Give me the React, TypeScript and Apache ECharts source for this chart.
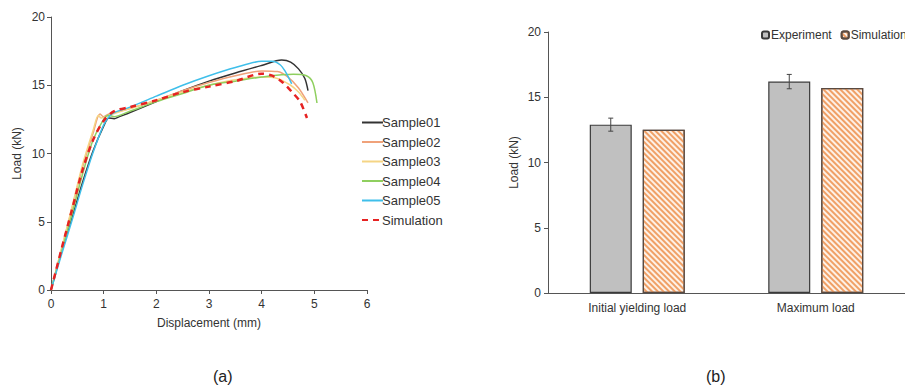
import React, { useEffect, useRef } from "react";
import * as echarts from "echarts";

const sample01: [number, number][] = [[0,0],[0.2,2.8],[0.4,5.3],[0.6,7.9],[0.8,10.2],[1.0,12.0],[1.1,12.6],[1.2,12.55],[1.3,12.7],[1.5,13.0],[2,13.8],[2.5,14.6],[3,15.3],[3.5,15.9],[4,16.45],[4.38,16.85],[4.55,16.7],[4.7,16.2],[4.82,15.5],[4.88,14.6]];
const sample02: [number, number][] = [[0,0],[0.2,3.0],[0.4,6.0],[0.6,9.0],[0.8,11.5],[0.93,12.9],[1.0,12.7],[1.1,12.9],[1.5,13.3],[2,13.9],[2.5,14.6],[3,15.2],[3.5,15.7],[4,16.05],[4.3,16.0],[4.5,15.6],[4.7,14.8],[4.88,13.7]];
const sample03: [number, number][] = [[0,0],[0.2,3.0],[0.4,6.1],[0.6,9.2],[0.8,11.7],[0.9,12.8],[0.95,12.6],[1.1,12.8],[1.5,13.3],[2,13.9],[2.5,14.5],[3,15.0],[3.5,15.4],[4,15.6],[4.3,15.5],[4.55,15.0],[4.7,14.5],[4.82,13.9]];
const sample04: [number, number][] = [[0,0],[0.2,2.8],[0.4,5.6],[0.6,8.5],[0.8,11.0],[1.0,12.5],[1.1,12.8],[1.2,12.7],[1.5,13.1],[2,13.8],[2.5,14.4],[3,15.0],[3.5,15.3],[4,15.6],[4.6,15.8],[4.85,15.7],[4.97,15.2],[5.05,13.7]];
const sample05: [number, number][] = [[0,0],[0.2,2.6],[0.4,5.1],[0.6,7.7],[0.8,10.1],[1.0,12.1],[1.1,12.7],[1.2,13.0],[1.5,13.4],[2,14.2],[2.5,15.0],[3,15.7],[3.5,16.3],[4,16.75],[4.2,16.75],[4.35,16.5],[4.45,16.0],[4.52,15.5],[4.57,15.1]];
const simulation: [number, number][] = [[0,0],[0.2,3.0],[0.4,5.9],[0.6,8.8],[0.8,11.0],[1.0,12.4],[1.2,13.1],[1.5,13.4],[2,13.9],[2.5,14.5],[3,14.9],[3.5,15.3],[4,15.85],[4.2,15.7],[4.4,15.2],[4.6,14.4],[4.73,13.8],[4.86,12.6]];

const barCategories = ["Initial yielding load", "Maximum load"];
const expValues = [12.9, 16.2];
const expErr = [0.5, 0.55];
const simValues = [12.5, 15.7];

const lineNames = ["Sample01", "Sample02", "Sample03", "Sample04", "Sample05", "Simulation"];
const lineData = [sample01, sample02, sample03, sample04, sample05, simulation];
const lineColors = ["#333333", "#f0a27a", "#f5d585", "#8fcf5f", "#3fbfea", "#e62222"];

const FONT = "Liberation Sans, Arial, sans-serif";
const BAR_W = 42;
const BAR_GAP_PX = 11;

export default function App() {
  const ref = useRef<HTMLDivElement>(null);
  useEffect(() => {
    if (!ref.current) return;
    const chart = echarts.init(ref.current, undefined, { renderer: "svg" });
    const axisCommon = {
      axisLine: { show: true, lineStyle: { color: "#555", width: 1 } },
      axisLabel: { color: "#333", fontSize: 12, fontFamily: FONT },
      splitLine: { show: false },
      nameTextStyle: { color: "#333", fontSize: 12, fontFamily: FONT },
    };
    const lineSeries = lineNames.map((n, i) => ({
      name: n,
      type: "line",
      xAxisIndex: 0,
      yAxisIndex: 0,
      data: lineData[i],
      symbol: "none",
      smooth: 0.3,
      z: n === "Simulation" ? 5 : 2,
      lineStyle: {
        color: lineColors[i],
        width: n === "Simulation" ? 2.5 : 1.5,
        type: n === "Simulation" ? [6, 5] : "solid",
      },
      itemStyle: { color: lineColors[i] },
    }));
    const errData = expValues.map((v, i) => [i, v - expErr[i], v + expErr[i]]);
    chart.setOption({
      animation: false,
      textStyle: { fontFamily: FONT },
      grid: [
        { left: 51, top: 17, width: 316, height: 273 },
        { left: 548, top: 32, width: 368, height: 261 },
      ],
      legend: [
        {
          data: lineNames,
          orient: "vertical",
          left: 356,
          top: 111,
          itemWidth: 21,
          itemHeight: 12,
          itemGap: 6.5,
          itemStyle: { opacity: 0 },
          textStyle: { color: "#333", fontSize: 13, fontFamily: FONT, padding: [0, 0, 0, -6] },
        },
        {
          data: ["Experiment", "Simulation "],
          orient: "horizontal",
          left: 756,
          top: 24,
          width: 300,
          itemWidth: 7,
          itemHeight: 7,
          itemGap: 9,
          textStyle: { color: "#333", fontSize: 12, fontFamily: FONT, padding: [0, 0, 0, -3] },
        },
      ],
      xAxis: [
        {
          ...axisCommon,
          gridIndex: 0,
          type: "value",
          min: 0,
          max: 6,
          interval: 1,
          name: "Displacement (mm)",
          nameLocation: "middle",
          nameGap: 27,
          axisTick: { show: true, length: 4, lineStyle: { color: "#555" } },
          axisLabel: { ...axisCommon.axisLabel, margin: 8 },
        },
        {
          ...axisCommon,
          gridIndex: 1,
          type: "category",
          data: barCategories,
          axisTick: { show: false },
          axisLabel: { ...axisCommon.axisLabel, margin: 9 },
        },
      ],
      yAxis: [
        {
          ...axisCommon,
          gridIndex: 0,
          type: "value",
          min: 0,
          max: 20,
          interval: 5,
          name: "Load (kN)",
          nameLocation: "middle",
          nameGap: 28,
          axisTick: { show: true, length: 4, lineStyle: { color: "#555" } },
          axisLabel: { ...axisCommon.axisLabel, margin: 6 },
        },
        {
          ...axisCommon,
          gridIndex: 1,
          type: "value",
          min: 0,
          max: 20,
          interval: 5,
          name: "Load (kN)",
          nameLocation: "middle",
          nameGap: 28,
          axisTick: { show: true, length: 4, lineStyle: { color: "#555" } },
          axisLabel: { ...axisCommon.axisLabel, margin: 7 },
        },
      ],
      series: [
        ...lineSeries,
        {
          name: "Experiment",
          type: "bar",
          xAxisIndex: 1,
          yAxisIndex: 1,
          data: expValues,
          barWidth: BAR_W,
          barGap: `${(BAR_GAP_PX / BAR_W) * 100}%`,
          itemStyle: { color: "#c0c0c0", borderColor: "#3a3a3a", borderWidth: 1.2 },
        },
        {
          name: "Simulation ",
          type: "bar",
          xAxisIndex: 1,
          yAxisIndex: 1,
          data: simValues,
          barWidth: BAR_W,
          itemStyle: {
            color: "#fdf1e7",
            borderColor: "#5a4a40",
            borderWidth: 1.2,
            decal: {
              symbol: "rect",
              symbolSize: 1,
              color: "#f0a066",
              dashArrayX: [1, 0],
              dashArrayY: [1.2, 1.6],
              rotation: Math.PI / 4,
            },
          },
        },
        {
          type: "custom",
          xAxisIndex: 1,
          yAxisIndex: 1,
          data: errData,
          z: 10,
          renderItem: (params: any, api: any) => {
            const i = api.value(0);
            const lo = api.coord([i, api.value(1)]);
            const hi = api.coord([i, api.value(2)]);
            const x = lo[0] - (BAR_W + BAR_GAP_PX) / 2;
            const st = { stroke: "#444", lineWidth: 1 };
            return {
              type: "group",
              children: [
                { type: "line", shape: { x1: x, y1: lo[1], x2: x, y2: hi[1] }, style: st },
                { type: "line", shape: { x1: x - 2.5, y1: lo[1], x2: x + 2.5, y2: lo[1] }, style: st },
                { type: "line", shape: { x1: x - 2.5, y1: hi[1], x2: x + 2.5, y2: hi[1] }, style: st },
              ],
            };
          },
        },
      ],
      graphic: [
        { type: "text", left: 213, top: 368, style: { text: "(a)", fontSize: 16, fontFamily: FONT, fill: "#222" } },
        { type: "text", left: 706, top: 368, style: { text: "(b)", fontSize: 16, fontFamily: FONT, fill: "#222" } },
      ],
    });
    return () => chart.dispose();
  }, []);
  return <div ref={ref} style={{ position: "fixed", left: 0, top: 0, width: 905, height: 390, background: "#fff" }} />;
}
